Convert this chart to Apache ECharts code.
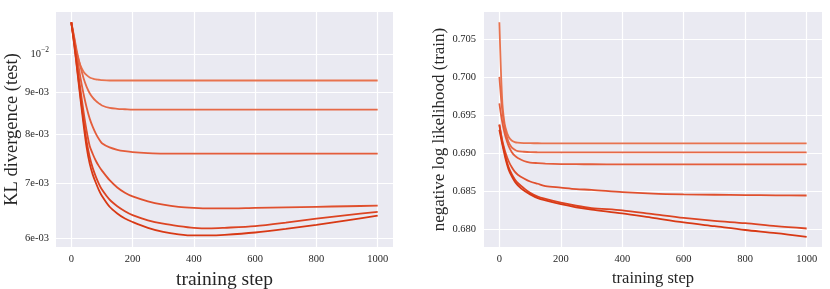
<!DOCTYPE html>
<html>
<head>
<meta charset="utf-8">
<script src="https://cdn.jsdelivr.net/npm/echarts@6/dist/echarts.min.js"></script>
<style>html,body{margin:0;padding:0;background:#fff}#c{width:830px;height:289px}</style>
</head>
<body>
<div id="c"></div>
<script>
// ---- data ----
const stepsKL = [0,10,20,30,40,50,60,70,80,90,100,125,150,175,200,250,300,350,400,450,500,600,700,800,900,1000];
const kl1 = [0.01091,0.01035,0.00995,0.00968,0.00952,0.00943,0.00937,0.00934,0.00932,0.00931,0.00930,0.00929,0.00929,0.00929,0.00929,0.00929,0.00929,0.00929,0.00929,0.00929,0.00929,0.00929,0.00929,0.00929,0.00929,0.00929];
const kl2 = [0.01091,0.01045,0.01000,0.00965,0.00935,0.00913,0.00897,0.00886,0.00878,0.00872,0.00867,0.00861,0.00859,0.00858,0.00857,0.00857,0.00857,0.00857,0.00857,0.00857,0.00857,0.00857,0.00857,0.00857,0.00857,0.00857];
const kl3 = [0.01091,0.01040,0.00985,0.00935,0.00895,0.00862,0.00836,0.00817,0.00802,0.00790,0.00781,0.00772,0.00767,0.00764,0.00762,0.00760,0.00759,0.00759,0.00759,0.00759,0.00759,0.00759,0.00759,0.00759,0.00759,0.00759];
const kl4 = [0.01091,0.01030,0.00965,0.00905,0.00852,0.00808,0.00775,0.00758,0.00744,0.00733,0.00724,0.00705,0.00691,0.00681,0.00674,0.00665,0.00659,0.00655,0.00653,0.00652,0.00652,0.00653,0.00654,0.00655,0.00656,0.00657];
const kl5 = [0.01091,0.01025,0.00955,0.00890,0.00832,0.00785,0.00752,0.00729,0.00712,0.00698,0.00687,0.00668,0.00656,0.00647,0.00640,0.00631,0.00625,0.00621,0.00618,0.00617,0.00618,0.00621,0.00627,0.00634,0.00640,0.00646];
const kl6 = [0.01091,0.01022,0.00950,0.00882,0.00822,0.00772,0.00738,0.00716,0.00700,0.00686,0.00675,0.00655,0.00643,0.00634,0.00628,0.00618,0.00611,0.00607,0.00605,0.00605,0.00606,0.00610,0.00616,0.00623,0.00631,0.00639];

const stepsNLL = [0,5,10,15,20,30,40,50,60,80,100,125,150,200,250,300,400,500,600,700,800,900,1000];
const nll1 = [0.7073,0.7010,0.6965,0.6945,0.6934,0.6922,0.6917,0.6915,0.69142,0.69137,0.69135,0.69134,0.69133,0.69133,0.69133,0.69133,0.69133,0.69133,0.69133,0.69133,0.69133,0.69133,0.69133];
const nll2 = [0.7001,0.6975,0.6955,0.6940,0.6929,0.6915,0.6908,0.6905,0.6903,0.69022,0.69017,0.69015,0.69014,0.69014,0.69014,0.69014,0.69014,0.69014,0.69014,0.69014,0.69014,0.69014,0.69014];
const nll3 = [0.6966,0.6952,0.6940,0.6930,0.6922,0.6910,0.6902,0.6897,0.6894,0.6890,0.6888,0.68872,0.68866,0.6886,0.68858,0.68857,0.68856,0.68856,0.68855,0.68855,0.68855,0.68855,0.68855];
const nll4 = [0.6938,0.6926,0.6916,0.6908,0.6901,0.6890,0.6882,0.6876,0.6872,0.6867,0.6863,0.6860,0.6857,0.6855,0.6853,0.6852,0.6849,0.6847,0.6846,0.68455,0.6845,0.68448,0.68445];
const nll5 = [0.6938,0.6926,0.6914,0.6905,0.6896,0.6882,0.6873,0.6866,0.6861,0.6854,0.6848,0.6843,0.6840,0.6835,0.6831,0.6828,0.6825,0.6820,0.6815,0.6811,0.6808,0.6804,0.6801];
const nll6 = [0.6931,0.6921,0.6911,0.6902,0.6893,0.6879,0.6870,0.6863,0.6858,0.6851,0.6846,0.6841,0.6838,0.6833,0.6829,0.6826,0.6821,0.6815,0.6809,0.6804,0.6799,0.6795,0.6790];

const xTicks = [0,200,400,600,800,1000];
const xTickLabels = ['0','200','400','600','800','1000'];
const klTicks = [0.006,0.007,0.008,0.009,0.01];
const klTickLabels = ['6e-03','7e-03','8e-03','9e-03','{b|10}{s|\u22122}'];
const nllTicks = [0.680,0.685,0.690,0.695,0.700,0.705];
const nllTickLabels = ['0.680','0.685','0.690','0.695','0.700','0.705'];

const colors = ['#E8734F','#E66846','#E45D3B','#E0502E','#DC4422','#D83915'];

// ---- chart ----
const FONT = '"Liberation Serif", "DejaVu Serif", serif';
const TXT = '#262626';
const chart = echarts.init(document.getElementById('c'), null, {renderer: 'canvas'});

function nearestLabel(v, ticks, labels){
  let bi = 0, bd = Infinity;
  ticks.forEach((t,i)=>{const d=Math.abs(t-v); if(d<bd){bd=d;bi=i;}});
  return labels[bi];
}
function xAxis(gi, nameSize, nameGap){
  return {
    gridIndex: gi, type: 'value', min: -50, max: 1050,
    name: 'training step', nameLocation: 'middle', nameGap: nameGap,
    nameTextStyle: {fontFamily: FONT, fontSize: nameSize, color: TXT},
    axisLine: {show: false},
    axisTick: {show: false, customValues: xTicks},
    axisLabel: {customValues: xTicks, fontFamily: FONT, fontSize: 10.5, color: TXT, margin: 7,
      formatter: v => nearestLabel(v, xTicks, xTickLabels)},
    splitLine: {show: true, lineStyle: {color: '#ffffff', width: 1.2}}
  };
}
const pairs = (xs, ys) => xs.map((x,i)=>[x, ys[i]]);
const klSeries = [kl1,kl2,kl3,kl4,kl5,kl6];
const nllSeries = [nll1,nll2,nll3,nll4,nll5,nll6];
const series = [];
const lineBase = {type:'line', showSymbol:false, smooth:0.3};
klSeries.forEach((s,i)=>series.push(Object.assign({}, lineBase, {xAxisIndex:0, yAxisIndex:0, data: pairs(stepsKL, s), lineStyle:{color:colors[i], width:1.8}, z: 2+i})));
nllSeries.forEach((s,i)=>series.push(Object.assign({}, lineBase, {xAxisIndex:1, yAxisIndex:1, data: pairs(stepsNLL, s), lineStyle:{color:colors[i], width:1.8}, z: 2+i})));

chart.setOption({
  animation: false,
  backgroundColor: '#ffffff',
  grid: [
    {left: 56, top: 12, width: 337, height: 235, show: true, backgroundColor: '#EAEAF2', borderWidth: 0, outerBoundsMode: 'none', containLabel: false},
    {left: 484, top: 12, width: 338, height: 235, show: true, backgroundColor: '#EAEAF2', borderWidth: 0, outerBoundsMode: 'none', containLabel: false}
  ],
  xAxis: [xAxis(0, 19.5, 17), xAxis(1, 16.5, 16)],
  yAxis: [
    {
      gridIndex: 0, type: 'log', min: 0.00586, max: 0.01123,
      name: 'KL divergence (test)', nameLocation: 'middle', nameGap: 29,
      nameTextStyle: {fontFamily: FONT, fontSize: 18.5, color: TXT},
      axisLine: {show: false},
      axisTick: {show: false, customValues: klTicks},
      axisLabel: {
        customValues: klTicks, fontFamily: FONT, fontSize: 10.5, color: TXT, margin: 7,
        formatter: v => nearestLabel(v, klTicks, klTickLabels),
        rich: {b: {fontFamily: FONT, fontSize: 10.5, color: TXT}, s: {fontFamily: FONT, fontSize: 7.5, color: TXT, padding: [0,0,7,0]}}
      },
      splitLine: {show: true, lineStyle: {color: '#ffffff', width: 1.2}}
    },
    {
      gridIndex: 1, type: 'value', min: 0.67766, max: 0.70865,
      name: 'negative log likelihood (train)', nameLocation: 'middle', nameGap: 34,
      nameTextStyle: {fontFamily: FONT, fontSize: 17, color: TXT},
      axisLine: {show: false},
      axisTick: {show: false, customValues: nllTicks},
      axisLabel: {
        customValues: nllTicks, fontFamily: FONT, fontSize: 10.5, color: TXT, margin: 8,
        formatter: v => nearestLabel(v, nllTicks, nllTickLabels)
      },
      splitLine: {show: true, lineStyle: {color: '#ffffff', width: 1.2}}
    }
  ],
  series: series
});
</script>
</body>
</html>
